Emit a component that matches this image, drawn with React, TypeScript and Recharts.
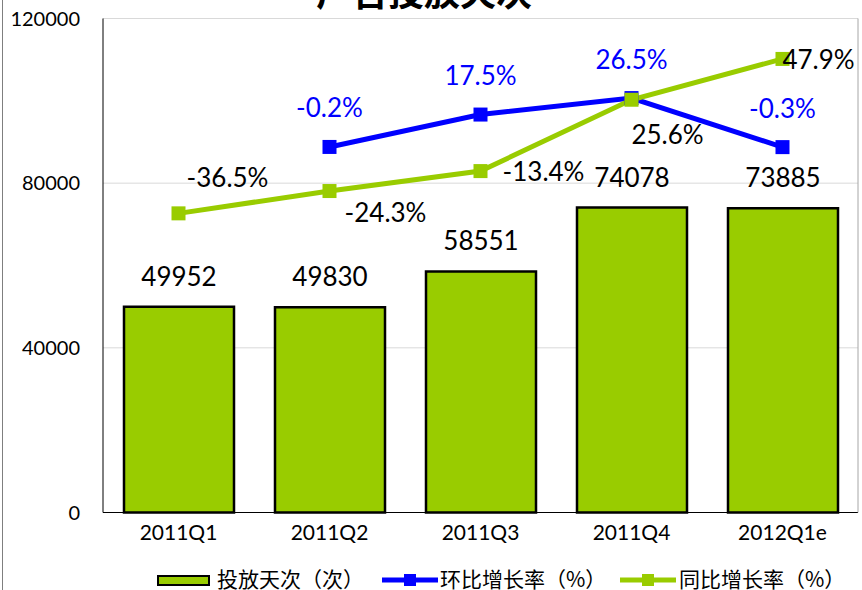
import { ComposedChart, Bar, Line, XAxis, YAxis, CartesianGrid, LabelList, Legend } from 'recharts';

const quarters = ['2011Q1', '2011Q2', '2011Q3', '2011Q4', '2012Q1e'];
const placementDays = [49952, 49830, 58551, 74078, 73885];
const qoqGrowth: (number | null)[] = [null, -0.2, 17.5, 26.5, -0.3];
const yoyGrowth = [-36.5, -24.3, -13.4, 25.6, 47.9];
const dayTicks = [0, 40000, 80000, 120000];

const data = quarters.map((quarter, i) => ({
  quarter,
  days: placementDays[i],
  qoq: qoqGrowth[i],
  yoy: yoyGrowth[i],
}));

const GREEN = '#99CC00';
const BLUE = '#0000FF';
const LATIN = 'Lato, "Noto Sans", sans-serif';
const CJK = '"Noto Sans CJK SC", "Noto Sans", sans-serif';

// label placement relative to each point (as laid out in the original)
const yoyShift = [[49, -35], [56, 22], [63, 1], [36, 35], [36, 1]];
const qoqShift = [[0, -39], [0, -39], [0, -39], [0, -38.5], [0, -38]];

function squareDot(color: string) {
  return (props: any) => {
    const { cx, cy, index } = props;
    if (cx == null || cy == null || props.value == null) return <g key={`d${index}`} />;
    return <rect key={`d${index}`} x={cx - 7} y={cy - 7} width={14} height={14} fill={color} />;
  };
}

function pctLabel(shift: number[][], color: string) {
  return (props: any) => {
    const { value, index } = props;
    if (value == null) return null;
    const x = props.viewBox?.x ?? props.x;
    const y = props.viewBox?.y ?? props.y;
    const [dx, dy] = shift[index];
    return (
      <text
        x={x + dx}
        y={y + dy + 9}
        textAnchor="middle"
        fontSize={26}
        fontFamily={LATIN}
        fill={color}
      >
        {`${value}%`}
      </text>
    );
  };
}

function ChartLegend() {
  const text = { position: 'absolute' as const, top: 0, fontSize: 21, lineHeight: '24px', fontFamily: CJK, color: '#000', whiteSpace: 'nowrap' as const };
  return (
    <div style={{ position: 'relative', width: 862, height: 24 }}>
      <div style={{ position: 'absolute', left: 157, top: 9, width: 53, height: 11, boxSizing: 'border-box', border: '2px solid #000', background: GREEN }} />
      <span style={{ ...text, left: 217 }}>投放天次（次）</span>
      <svg style={{ position: 'absolute', left: 382, top: 7 }} width={56} height={14}>
        <line x1={0} y1={7} x2={56} y2={7} stroke={BLUE} strokeWidth={5} />
        <rect x={22} y={1} width={12} height={12} fill={BLUE} />
      </svg>
      <span style={{ ...text, left: 440 }}>环比增长率（%）</span>
      <svg style={{ position: 'absolute', left: 620, top: 7 }} width={56} height={14}>
        <line x1={0} y1={7} x2={56} y2={7} stroke={GREEN} strokeWidth={5} />
        <rect x={22} y={1} width={12} height={12} fill={GREEN} />
      </svg>
      <span style={{ ...text, left: 679 }}>同比增长率（%）</span>
    </div>
  );
}

export default function App() {
  return (
    <div style={{ position: 'absolute', left: 0, top: 0, width: 862, height: 590, overflow: 'hidden', background: '#fff' }}>
      <div style={{ position: 'absolute', left: 2, top: 0, width: 1, height: 590, background: '#7f7f7f' }} />
      <div
        style={{
          position: 'absolute',
          left: 274,
          top: -28,
          width: 300,
          textAlign: 'center',
          fontFamily: CJK,
          fontSize: 36,
          fontWeight: 'bold',
          lineHeight: '36px',
          color: '#000',
        }}
      >
        广告投放天次
      </div>
      <ComposedChart
        width={862}
        height={590}
        data={data}
        margin={{ top: 18.5, right: 0, left: 0, bottom: 47.5 }}
      >
        <CartesianGrid yAxisId="days" vertical={false} stroke="#d9d9d9" />
        <XAxis
          dataKey="quarter"
          height={30}
          tickLine={false}
          tickSize={0}
          tickMargin={13}
          axisLine={{ stroke: '#000' }}
          tick={{ fontSize: 21, fill: '#000', fontFamily: LATIN }}
        />
        <XAxis xAxisId="top" dataKey="quarter" orientation="top" height={0} tick={false} tickLine={false} axisLine={{ stroke: '#404040' }} />
        <YAxis
          yAxisId="days"
          width={103}
          domain={[0, 120000]}
          ticks={dayTicks}
          tickLine={false}
          tickSize={0}
          tickMargin={23}
          axisLine={{ stroke: '#000' }}
          tick={{ fontSize: 20, fill: '#000', fontFamily: LATIN }}
        />
        <YAxis
          yAxisId="pct"
          orientation="right"
          width={4}
          domain={[-200, 70]}
          tick={false}
          tickLine={false}
          axisLine={{ stroke: '#a6a6a6' }}
        />
        <Legend
          verticalAlign="middle"
          align="center"
          content={() => <ChartLegend />}
          wrapperStyle={{ position: 'absolute', top: 566, left: 0, width: 862, height: 24 }}
        />
        <Bar yAxisId="days" dataKey="days" barSize={110} fill={GREEN} stroke="#000" strokeWidth={2.5} isAnimationActive={false}>
          <LabelList dataKey="days" position="top" offset={21} fontSize={26} fill="#000" fontFamily={LATIN} />
        </Bar>
        <Line
          yAxisId="pct"
          dataKey="qoq"
          stroke={BLUE}
          strokeWidth={5}
          dot={squareDot(BLUE)}
          activeDot={false}
          isAnimationActive={false}
        >
          <LabelList dataKey="qoq" content={pctLabel(qoqShift, BLUE)} />
        </Line>
        <Line
          yAxisId="pct"
          dataKey="yoy"
          stroke={GREEN}
          strokeWidth={5}
          dot={squareDot(GREEN)}
          activeDot={false}
          isAnimationActive={false}
        >
          <LabelList dataKey="yoy" content={pctLabel(yoyShift, '#000')} />
        </Line>
      </ComposedChart>
    </div>
  );
}
